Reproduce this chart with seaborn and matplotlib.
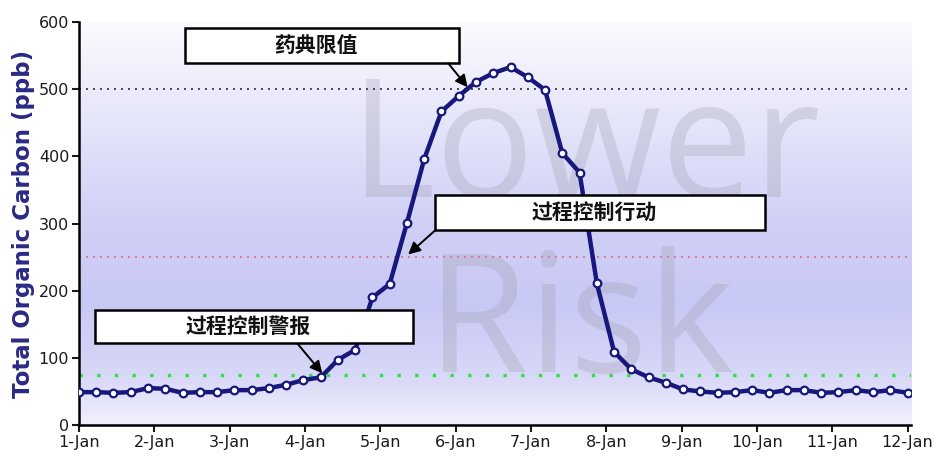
import numpy as np
import pandas as pd
import seaborn as sns
import matplotlib.pyplot as plt
from matplotlib.colors import LinearSegmentedColormap
from matplotlib.patches import Rectangle

# data
day_labels = ['1-Jan', '2-Jan', '3-Jan', '4-Jan', '5-Jan', '6-Jan',
              '7-Jan', '8-Jan', '9-Jan', '10-Jan', '11-Jan', '12-Jan']
toc_ppb = [49, 49, 48, 49, 55, 54, 48, 49, 49, 52, 52, 55, 60, 67, 71, 97,
           112, 190, 210, 301, 396, 467, 490, 511, 524, 533, 518, 499, 405,
           376, 211, 109, 83, 71, 63, 53, 50, 48, 49, 52, 48, 52, 52, 48,
           49, 52, 49, 52, 48]
limit_names = ['药典限值', '过程控制行动', '过程控制警报']
limit_values = [500, 250, 75]

n = len(toc_ppb)
days = np.arange(n) * (len(day_labels) - 1) / (n - 1)
df = pd.DataFrame({'day': days, 'toc': toc_ppb})

sns.set_style('ticks')
plt.rcParams['font.family'] = ['DejaVu Sans', 'Noto Sans CJK SC']

fig = plt.figure(figsize=(9.48, 4.61), dpi=100)
ax = fig.add_axes([0.0833, 0.078, 0.878, 0.874])

xmax = 11.05
# background gradient
cmap = LinearSegmentedColormap.from_list('bg', [
    (0.0, '#f0f0fc'), (0.12, '#d8d8f8'), (0.3, '#c8c8f5'),
    (0.5, '#d0d0f6'), (0.8, '#e9e9fb'), (1.0, '#fbfbff')])
grad = np.linspace(0, 1, 256).reshape(-1, 1)
ax.imshow(grad, cmap=cmap, origin='lower', aspect='auto',
          extent=[0, xmax, 0, 600], zorder=0)

# watermark
for word, wx, wy in [('Lower', 6.72, 339), ('Risk', 6.66, 79)]:
    ax.text(wx, wy, word, fontsize=118, family='Open Sans', color='#9a9aa8',
            alpha=0.28, ha='center', va='baseline', zorder=1)

# limit lines
ax.axhline(limit_values[0], color='#444450', lw=1.4, ls=(0, (1, 2.6)), zorder=2)
ax.axhline(limit_values[1], color='#d878a8', lw=1.4, ls=(0, (1, 2.6)), zorder=2)
ax.axhline(limit_values[2], color='#33dd44', lw=2.4, ls=(0, (1, 4.3)), zorder=2)

sns.lineplot(data=df, x='day', y='toc', ax=ax, color='#17177c', lw=3.2,
             marker='o', markersize=5.5, markerfacecolor='white',
             markeredgecolor='#17177c', markeredgewidth=1.6, zorder=5)

# annotation boxes: (x0, x1, y0, y1) in data units, arrow start and tip
boxes = [(1.41, 5.05, 539, 591), (4.73, 9.11, 290, 342), (0.21, 4.44, 122, 171)]
arrows = [((4.90, 539), (5.16, 503)), ((4.73, 290), (4.37, 254)),
          ((2.91, 120), (3.23, 77))]
for name, (x0, x1, y0, y1), (start, tip) in zip(limit_names, boxes, arrows):
    ax.add_patch(Rectangle((x0, y0), x1 - x0, y1 - y0, facecolor='white',
                           edgecolor='black', lw=1.8, zorder=6))
    ax.text((x0 + x1) / 2 - 0.08, (y0 + y1) / 2, name, fontsize=15,
            family=['Noto Sans CJK SC', 'DejaVu Sans'], weight='bold',
            color='#111111', ha='center', va='center', zorder=7)
    ax.annotate('', xy=tip, xytext=start, zorder=7,
                arrowprops=dict(arrowstyle='-|>', color='black', lw=1.4,
                                mutation_scale=18, shrinkA=0, shrinkB=0))

ax.set_xlim(0, xmax)
ax.set_ylim(0, 600)
ax.set_xticks(range(len(day_labels)))
ax.set_xticklabels(day_labels)
ax.set_yticks(range(0, 601, 100))
ax.tick_params(axis='both', labelsize=11.5, colors='#1a1a1a', length=5,
               width=1.5, pad=2)
ax.set_xlabel('')
ax.set_ylabel('Total Organic Carbon (ppb)', fontsize=16.5, weight='bold',
              color='#2a2a86', family='DejaVu Sans', labelpad=3)
for side in ['top', 'right']:
    ax.spines[side].set_visible(False)
for side in ['left', 'bottom']:
    ax.spines[side].set_linewidth(1.8)
    ax.spines[side].set_color('black')

fig.savefig('out.png', dpi=100, facecolor='white')
